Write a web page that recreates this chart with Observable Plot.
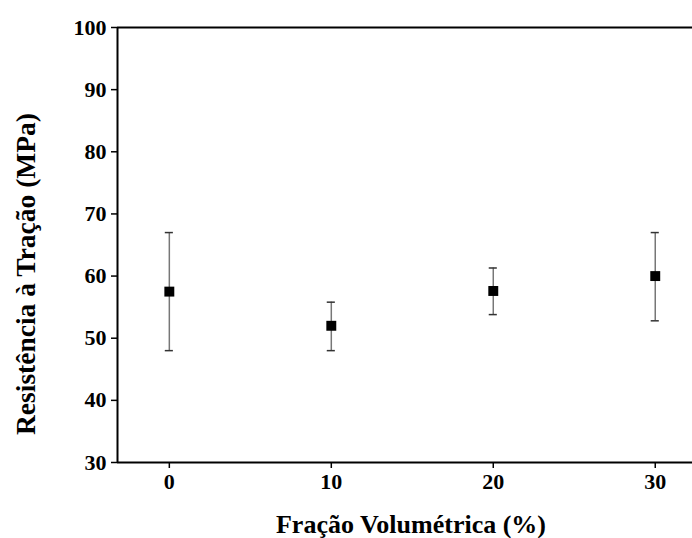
<!DOCTYPE html>
<html><head><meta charset="utf-8">
<script src="https://cdn.jsdelivr.net/npm/d3@7"></script>
<script src="https://cdn.jsdelivr.net/npm/@observablehq/plot@0.6"></script>
<style>body{margin:0;background:#fff}</style>
</head><body><div id="chart"></div>
<script>
const fractions = [0, 10, 20, 30];
const means = [57.5, 52.0, 57.6, 60.0];
const lows = [48.0, 48.0, 53.8, 52.8];
const highs = [67.0, 55.8, 61.3, 67.0];
const xTicks = [0, 10, 20, 30];
const yTicks = [30, 40, 50, 60, 70, 80, 90, 100];

const data = fractions.map((f, i) => ({x: f, y: means[i], lo: lows[i], hi: highs[i]}));
const xDomain = [-3.2, 32.3];
const font = "'Liberation Serif', 'Times New Roman', serif";

const chart = Plot.plot({
  width: 692, height: 538,
  marginLeft: 117, marginRight: 0, marginTop: 27, marginBottom: 76,
  style: {fontFamily: font, fontWeight: "bold", fontSize: "22px", color: "#000", background: "#fff"},
  x: {domain: xDomain},
  y: {domain: [30, 100]},
  marks: [
    Plot.axisX({ticks: xTicks, tickSize: 6, tickPadding: 5, tickFormat: d => d, label: null, strokeWidth: 1.5, fontSize: 22}),
    Plot.axisY({ticks: yTicks, tickSize: 6, tickPadding: 5, tickFormat: d => d, label: null, strokeWidth: 1.5, fontSize: 22}),
    Plot.ruleX([xDomain[0]], {y1: 30, y2: 100, stroke: "#000", strokeWidth: 2}),
    Plot.ruleY([30], {x1: xDomain[0], x2: xDomain[1], stroke: "#000", strokeWidth: 2}),
    Plot.ruleY([100], {x1: xDomain[0], x2: xDomain[1], stroke: "#000", strokeWidth: 2}),
    Plot.ruleX(data, {x: "x", y1: "lo", y2: "hi", stroke: "#777", strokeWidth: 1.5}),
    Plot.ruleY(data, {y: "hi", x1: d => d.x - 0.25, x2: d => d.x + 0.25, stroke: "#333", strokeWidth: 1.5}),
    Plot.ruleY(data, {y: "lo", x1: d => d.x - 0.25, x2: d => d.x + 0.25, stroke: "#333", strokeWidth: 1.5}),
    Plot.dot(data, {x: "x", y: "y", symbol: "square", r: 5.6, fill: "#000", stroke: "none"}),
    Plot.text(["Fração Volumétrica (%)"], {frameAnchor: "bottom", dx: 6, dy: 62, lineAnchor: "middle", fontSize: 26, fontWeight: "bold", text: d => d}),
    Plot.text(["Resistência à Tração (MPa)"], {frameAnchor: "left", textAnchor: "middle", lineAnchor: "middle", dx: -91, dy: 29, rotate: -90, fontSize: 27.5, fontWeight: "bold", text: d => d})
  ]
});
document.getElementById("chart").appendChild(chart);
</script>
</body></html>
